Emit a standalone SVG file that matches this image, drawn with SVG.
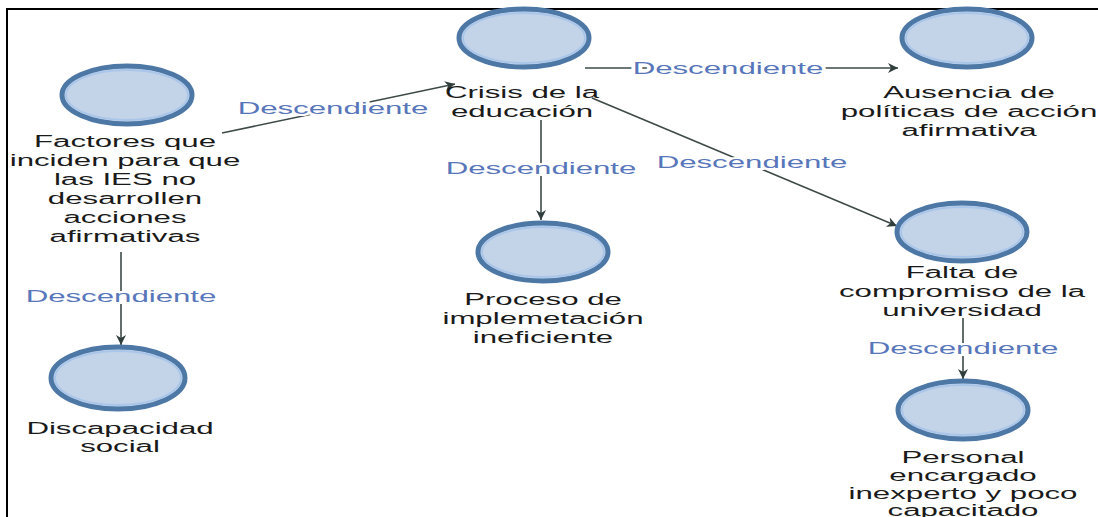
<svg xmlns="http://www.w3.org/2000/svg" width="1098" height="517" viewBox="0 0 1098 517">
<style>
.node ellipse.o{fill:#c4d4e8;stroke:#4d78a6;stroke-width:5}
.node ellipse.i{fill:none;stroke:#a9c6ea;stroke-width:2}
.t{font-family:"Liberation Sans",Arial,sans-serif;font-size:16px;fill:#1a1a1a;text-anchor:middle}
.lbl{font-family:"Liberation Sans",Arial,sans-serif;font-size:16px;fill:#5876ba;text-anchor:middle;paint-order:stroke;stroke:#fff;stroke-width:4px}
.edge{stroke:#3d4a48;stroke-width:1.6;fill:none;marker-end:url(#ah)}
</style>
<defs>
<marker id="ah" viewBox="0 0 10 10" refX="10" refY="5" markerWidth="12" markerHeight="10" markerUnits="userSpaceOnUse" orient="auto">
<path d="M0,0 L10,5 L0,10 L3,5 z" fill="#2f3d3c"/>
</marker>
</defs>
<rect width="1098" height="517" fill="#fff"/>
<path d="M7,517 V9 H1098" fill="none" stroke="#000" stroke-width="2"/>
<g id="connectors">
<line class="edge" x1="222" y1="133" x2="455" y2="84"/>
<text class="lbl" transform="translate(333,114) scale(1.95,1)">Descendiente</text>
<line class="edge" x1="585" y1="68" x2="898" y2="68"/>
<text class="lbl" transform="translate(728,74) scale(1.95,1)">Descendiente</text>
<line class="edge" x1="541" y1="120" x2="541" y2="220"/>
<text class="lbl" transform="translate(541,174) scale(1.95,1)">Descendiente</text>
<line class="edge" x1="592" y1="98" x2="897" y2="226"/>
<text class="lbl" transform="translate(752,168) scale(1.95,1)">Descendiente</text>
<line class="edge" x1="121" y1="252" x2="121" y2="345"/>
<text class="lbl" transform="translate(121,302) scale(1.95,1)">Descendiente</text>
<line class="edge" x1="963" y1="318" x2="963" y2="379"/>
<text class="lbl" transform="translate(963,354) scale(1.95,1)">Descendiente</text>
</g>
<g id="n-factores" class="node">
<ellipse class="o" cx="127" cy="95" rx="65" ry="29"/><ellipse class="i" cx="127" cy="95" rx="61" ry="25"/>
<g transform="translate(125,0) scale(1.95,1)">
<text class="t" x="0" y="147">Factores que</text>
<text class="t" x="0" y="166">inciden para que</text>
<text class="t" x="0" y="185">las IES no</text>
<text class="t" x="0" y="204">desarrollen</text>
<text class="t" x="0" y="223">acciones</text>
<text class="t" x="0" y="242">afirmativas</text>
</g>
</g>
<g id="n-crisis" class="node">
<ellipse class="o" cx="524" cy="38" rx="65" ry="29"/><ellipse class="i" cx="524" cy="38" rx="61" ry="25"/>
<g transform="translate(522,0) scale(1.95,1)">
<text class="t" x="0" y="98">Crisis de la</text>
<text class="t" x="0" y="117">educación</text>
</g>
</g>
<g id="n-ausencia" class="node">
<ellipse class="o" cx="967" cy="38" rx="65" ry="29"/><ellipse class="i" cx="967" cy="38" rx="61" ry="25"/>
<g transform="translate(969,0) scale(1.95,1)">
<text class="t" x="0" y="98">Ausencia de</text>
<text class="t" x="0" y="117">políticas de acción</text>
<text class="t" x="0" y="136">afirmativa</text>
</g>
</g>
<g id="n-proceso" class="node">
<ellipse class="o" cx="543" cy="252" rx="65" ry="29"/><ellipse class="i" cx="543" cy="252" rx="61" ry="25"/>
<g transform="translate(543,0) scale(1.95,1)">
<text class="t" x="0" y="305">Proceso de</text>
<text class="t" x="0" y="324">implemetación</text>
<text class="t" x="0" y="343">ineficiente</text>
</g>
</g>
<g id="n-falta" class="node">
<ellipse class="o" cx="962" cy="232" rx="65" ry="29"/><ellipse class="i" cx="962" cy="232" rx="61" ry="25"/>
<g transform="translate(962,0) scale(1.95,1)">
<text class="t" x="0" y="278">Falta de</text>
<text class="t" x="0" y="297">compromiso de la</text>
<text class="t" x="0" y="316">universidad</text>
</g>
</g>
<g id="n-discapacidad" class="node">
<ellipse class="o" cx="118" cy="378" rx="67" ry="31"/><ellipse class="i" cx="118" cy="378" rx="63" ry="27"/>
<g transform="translate(120,0) scale(1.95,1)">
<text class="t" x="0" y="434">Discapacidad</text>
<text class="t" x="0" y="452">social</text>
</g>
</g>
<g id="n-personal" class="node">
<ellipse class="o" cx="963" cy="410" rx="65" ry="29"/><ellipse class="i" cx="963" cy="410" rx="61" ry="25"/>
<g transform="translate(963,0) scale(1.95,1)">
<text class="t" x="0" y="463">Personal</text>
<text class="t" x="0" y="481">encargado</text>
<text class="t" x="0" y="499">inexperto y poco</text>
<text class="t" x="0" y="516">capacitado</text>
</g>
</g>
</svg>
